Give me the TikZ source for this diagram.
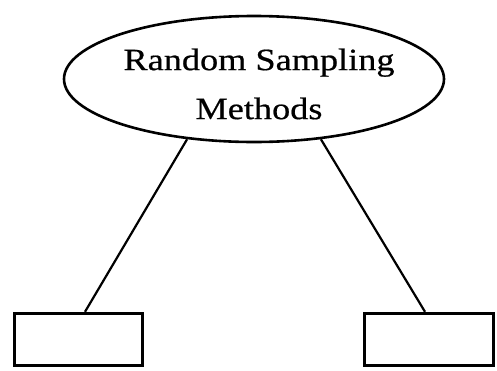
\documentclass[tikz,border=0pt]{standalone}
\usepackage{fontspec}
\setmainfont{Liberation Serif}[FakeStretch=1.17,FakeBold=0.6]
\usetikzlibrary{shapes.geometric}
\begin{document}
\begin{tikzpicture}[x=1pt,y=-1pt,
  topell/.style={ellipse,draw,line width=2.6pt,minimum width=380pt,minimum height=126pt,inner sep=0pt},
  leafbox/.style={rectangle,draw,line width=3.4pt,minimum height=52pt,inner sep=0pt},
  conn/.style={line width=2.2pt},
  lbl/.style={font=\fontsize{31}{49}\selectfont,align=center,inner sep=0pt}]
\useasboundingbox (0,0) rectangle (497,370);
\node[topell] (top) at (254,79) {};
\node[lbl] (toptext) at (259,84) {Random Sampling\\Methods};
\node[leafbox,minimum width=128pt] (left) at (78.5,339.5) {};
\node[leafbox,minimum width=129pt] (right) at (429,339.5) {};
\draw[conn] (top.222) -- ([xshift=6.5pt]left.north);
\draw[conn] (top.318) -- ([xshift=-4pt]right.north);
\end{tikzpicture}
\end{document}
